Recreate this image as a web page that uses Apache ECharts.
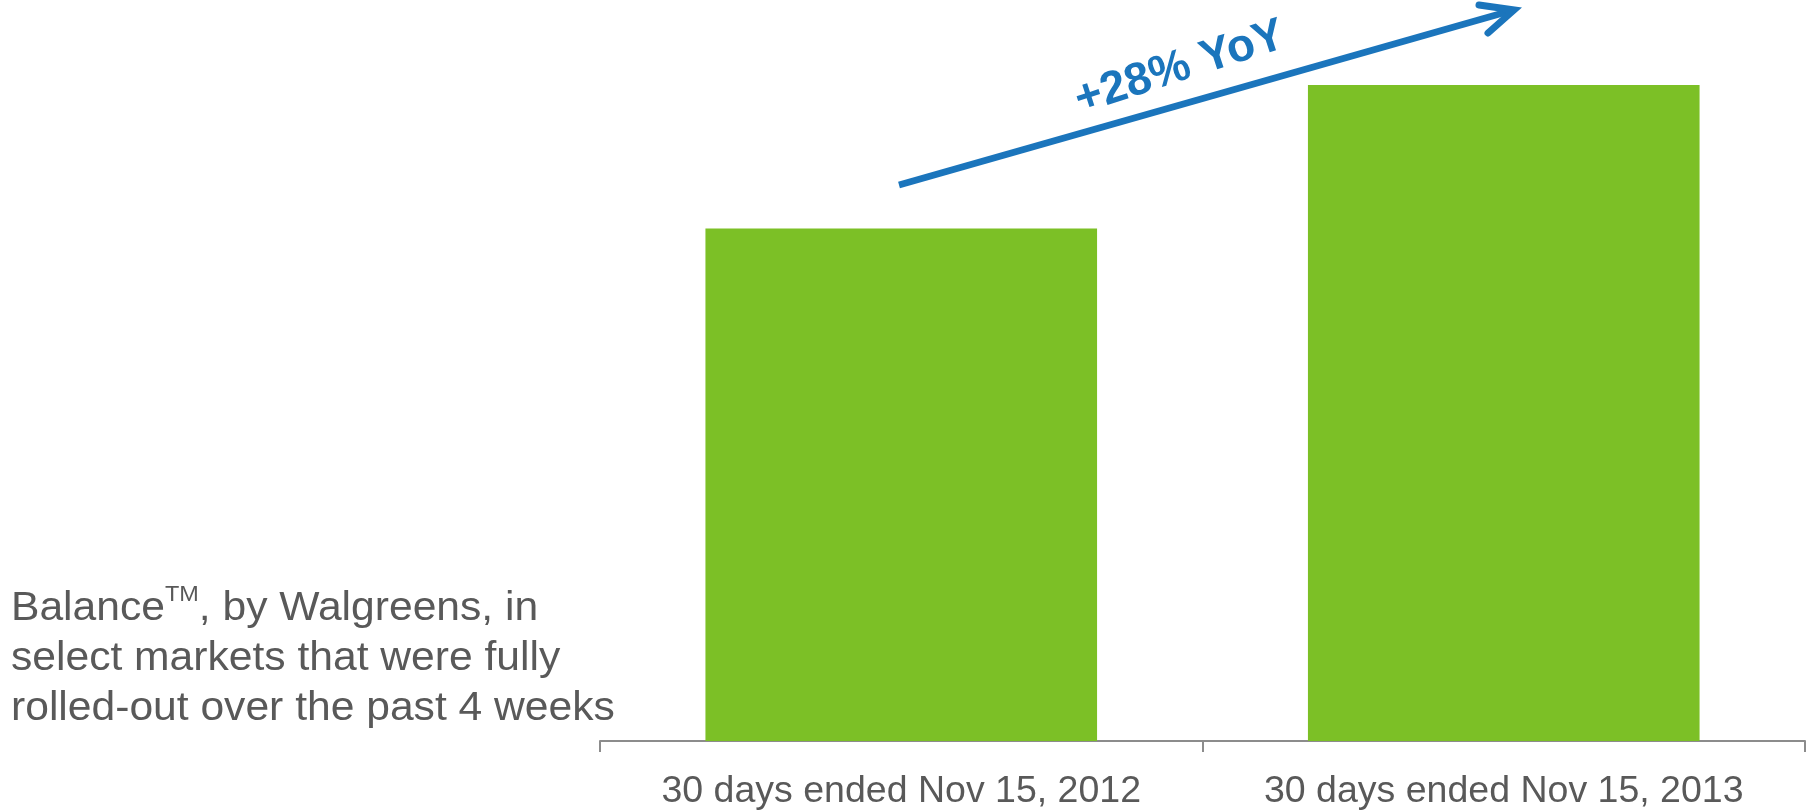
<!DOCTYPE html>
<html>
<head>
<meta charset="utf-8">
<title>Balance by Walgreens</title>
<script src="https://cdn.jsdelivr.net/npm/echarts@6/dist/echarts.min.js"></script>
<style>
  html, body { margin: 0; padding: 0; background: #ffffff; }
  #chart { width: 1806px; height: 811px; }
</style>
</head>
<body>
<div id="chart"></div>
<script>
// Periods compared and their indexed values (first period = 100)
const categories = ['30 days ended Nov 15, 2012', '30 days ended Nov 15, 2013'];
const values = [100, 128];

const growthPct = Math.round((values[1] / values[0] - 1) * 100);
const growthLabel = '+' + growthPct + '% YoY';

const FONT = '"Liberation Sans", Arial, Helvetica, sans-serif';
const GREEN = '#7cc026';
const BLUE = '#1b75bc';
const GREY = '#595959';

const chart = echarts.init(document.getElementById('chart'), null, { renderer: 'canvas' });

chart.setOption({
  animation: false,
  backgroundColor: '#ffffff',
  grid: { left: 600, right: 1, top: 3, bottom: 64, containLabel: false },
  xAxis: {
    type: 'category',
    data: categories,
    boundaryGap: true,
    axisLine: { show: true, lineStyle: { color: '#8c8c8c', width: 2 } },
    axisTick: { show: true, interval: 0, length: 11, lineStyle: { color: '#8c8c8c', width: 2 } },
    axisLabel: { interval: 0, color: GREY, fontSize: 37.5, fontFamily: FONT, margin: 32 }
  },
  yAxis: {
    type: 'value',
    min: 0,
    max: 144,
    show: false,
    splitLine: { show: false }
  },
  series: [{
    type: 'bar',
    data: values,
    barCategoryGap: '35%',
    itemStyle: { color: GREEN },
    label: { show: false }
  }],
  graphic: [
    // growth arrow: shaft and open head
    {
      type: 'polyline',
      shape: { points: [[899, 185], [1510, 11]] },
      style: { stroke: BLUE, lineWidth: 6.5, lineCap: 'butt', fill: null }
    },
    {
      type: 'polyline',
      shape: { points: [[1479, 5], [1514, 10], [1488, 33]] },
      style: { stroke: BLUE, lineWidth: 7, lineCap: 'round', lineJoin: 'miter', fill: null }
    },
    {
      type: 'text',
      x: 1180,
      y: 68,
      rotation: 18 * Math.PI / 180,
      style: {
        text: growthLabel,
        fill: BLUE,
        font: 'bold 46px ' + FONT,
        align: 'center',
        verticalAlign: 'middle'
      }
    },
    // side note
    {
      type: 'text',
      x: 11,
      y: 583.5,
      scaleX: 1.065,
      style: {
        text: '{a|Balance}{sup|TM}{a|, by Walgreens, in}\n{a|select markets that were fully}\n{a|rolled-out over the past 4 weeks}',
        align: 'left',
        verticalAlign: 'top',
        rich: {
          a: { fontSize: 40, lineHeight: 50, fontFamily: FONT, fill: GREY, color: GREY },
          sup: { fontSize: 22, lineHeight: 36, verticalAlign: 'top', fontFamily: FONT, fill: GREY, color: GREY }
        }
      }
    }
  ]
});
</script>
</body>
</html>
